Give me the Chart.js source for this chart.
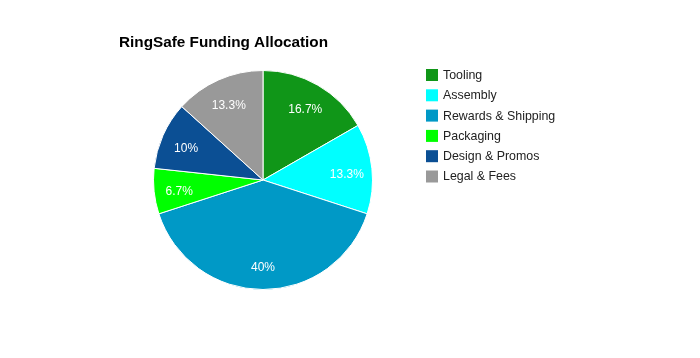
<!DOCTYPE html>
<html>
<head>
<meta charset="utf-8">
<title>RingSafe Funding Allocation</title>
<script src="https://cdn.jsdelivr.net/npm/chart.js@4.4.1/dist/chart.umd.min.js"></script>
<style>
  html, body { margin: 0; padding: 0; background: #fff; }
  #wrap { position: relative; width: 700px; height: 358px; }
</style>
</head>
<body>
<div id="wrap"><canvas id="fundingChart" width="700" height="358"></canvas></div>
<script>
// chart data
const chartTitle = 'RingSafe Funding Allocation';
const categories = ['Tooling', 'Assembly', 'Rewards & Shipping', 'Packaging', 'Design & Promos', 'Legal & Fees'];
const shares = [16.7, 13.3, 40, 6.7, 10, 13.3];
const sliceColors = ['#109618', '#00ffff', '#0099c6', '#00ff00', '#0b4f94', '#999999'];

const FONT = '"Liberation Sans", Arial, sans-serif';

// draws the title, the legend on the right and the % labels inside slices
const decorPlugin = {
    id: 'decor',
    afterDatasetsDraw(chart) {
        const ctx = chart.ctx;
        const meta = chart.getDatasetMeta(0);
        const values = chart.data.datasets[0].data;

        // slice labels
        ctx.save();
        ctx.fillStyle = '#ffffff';
        ctx.font = '12px ' + FONT;
        ctx.textAlign = 'center';
        ctx.textBaseline = 'middle';
        meta.data.forEach((arc, i) => {
            const mid = (arc.startAngle + arc.endAngle) / 2;
            const r = arc.outerRadius * 0.77;
            const x = arc.x + Math.cos(mid) * r;
            const y = arc.y + Math.sin(mid) * r + 3;
            ctx.fillText(values[i] + '%', x, y);
        });
        ctx.restore();

        // title
        ctx.save();
        ctx.fillStyle = '#000000';
        ctx.font = 'bold 15.3px ' + FONT;
        ctx.textAlign = 'left';
        ctx.textBaseline = 'alphabetic';
        ctx.fillText(chartTitle, 119, 47);
        ctx.restore();

        // legend
        ctx.save();
        ctx.font = '12.4px ' + FONT;
        ctx.textBaseline = 'middle';
        chart.data.labels.forEach((label, i) => {
            const y = 75 + i * 20.3;
            ctx.fillStyle = chart.data.datasets[0].backgroundColor[i];
            ctx.fillRect(426, y - 6, 12, 12);
            ctx.fillStyle = '#222222';
            ctx.fillText(label, 443, y + 0.5);
        });
        ctx.restore();
    }
};

const ctx = document.getElementById('fundingChart').getContext('2d');
new Chart(ctx, {
    type: 'pie',
    data: {
        labels: categories,
        datasets: [{
            data: shares,
            backgroundColor: sliceColors,
            borderColor: '#ffffff',
            borderWidth: 1
        }]
    },
    options: {
        responsive: false,
        animation: false,
        layout: {
            padding: { left: 153, right: 327, top: 70, bottom: 68 }
        },
        plugins: {
            legend: { display: false },
            title: { display: false },
            tooltip: { enabled: false }
        }
    },
    plugins: [decorPlugin]
});
</script>
</body>
</html>
